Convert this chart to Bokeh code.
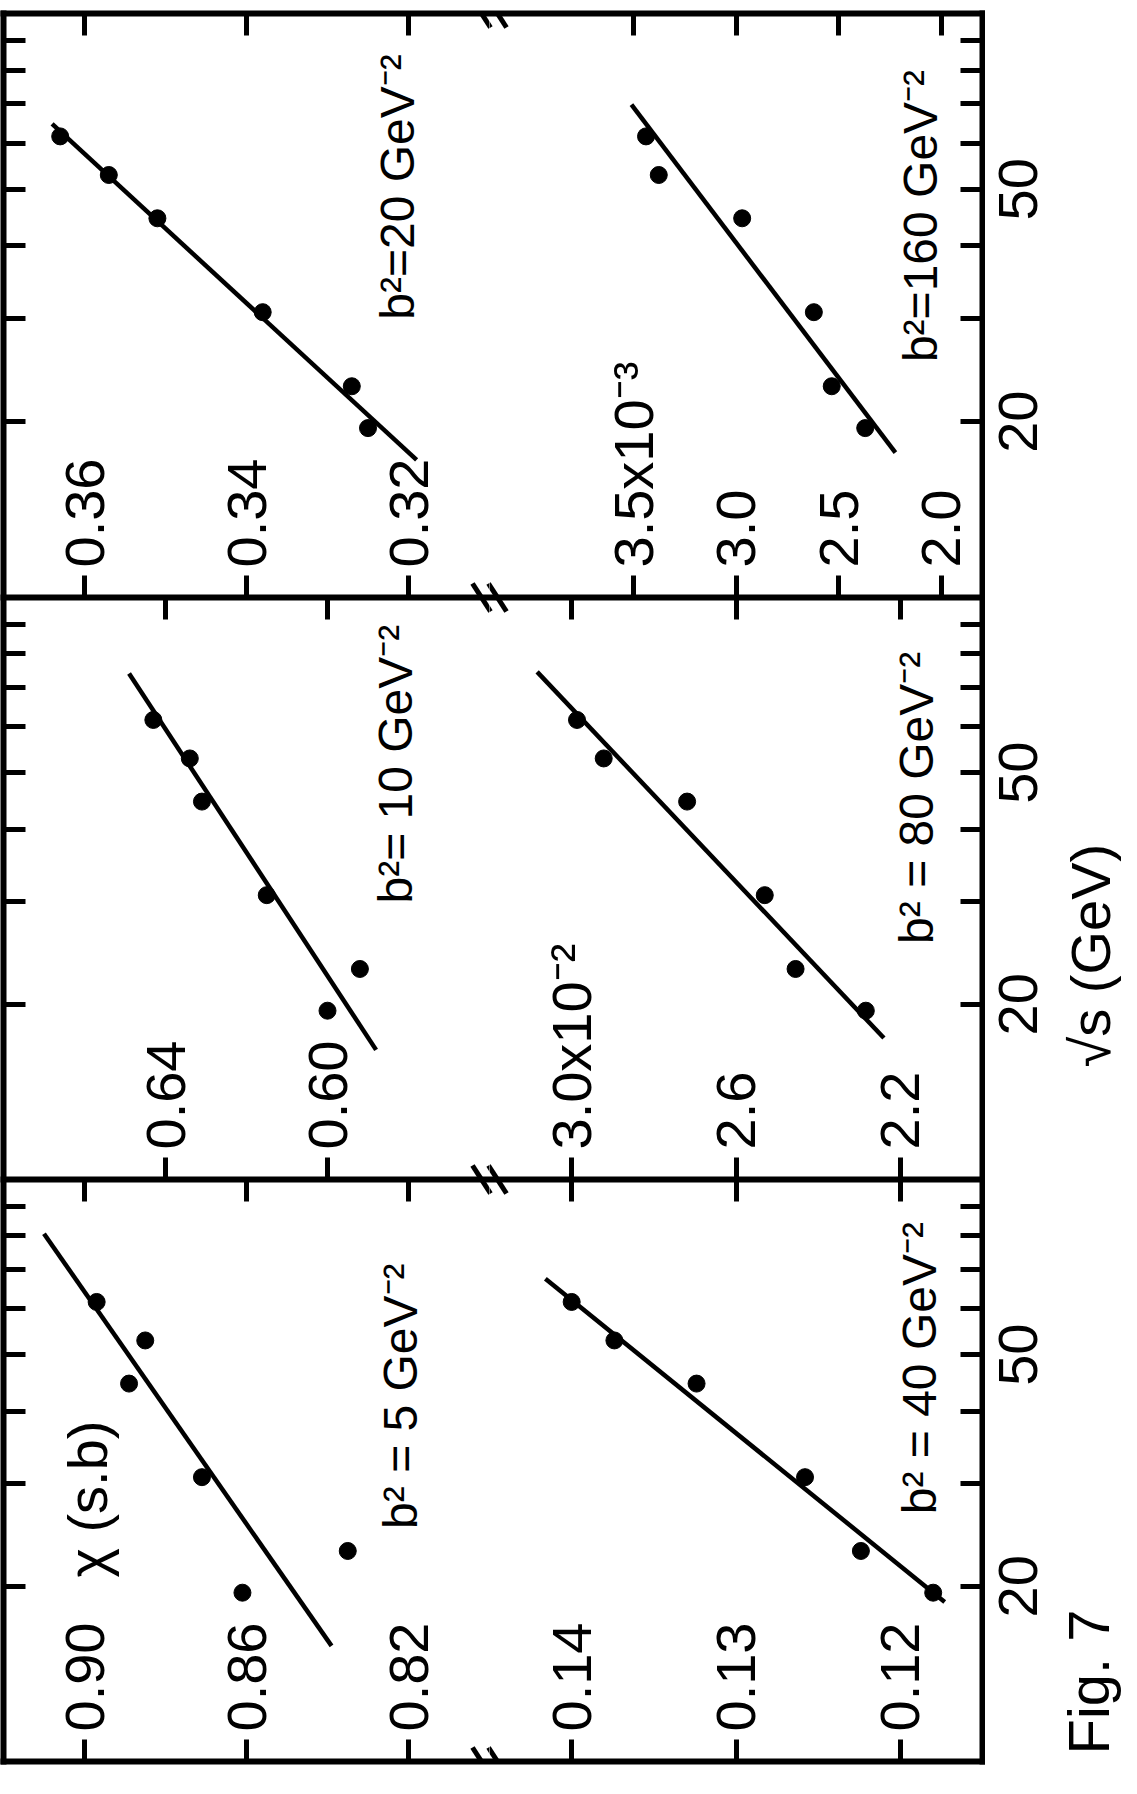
import math
from bokeh.plotting import figure
from bokeh.layouts import gridplot
from bokeh.models import ColumnDataSource, FixedTicker, LinearAxis, LogAxis, Range1d
from bokeh.core.properties import value
from bokeh.embed import file_html
from bokeh.resources import INLINE

# ---------------- data ----------------
sqrt_s = [19.5, 23.0, 30.8, 44.6, 52.9, 61.6]          # GeV

chi_b5 = [0.861, 0.835, 0.871, 0.889, 0.885, 0.897]
chi_b10 = [0.600, 0.592, 0.615, 0.631, 0.634, 0.643]
chi_b20 = [0.325, 0.327, 0.338, 0.351, 0.357, 0.363]
chi_b40 = [0.1180, 0.1224, 0.1258, 0.1324, 0.1374, 0.1400]
chi_b80 = [2.284, 2.455, 2.530, 2.719, 2.922, 2.987]    # x 10^-2
chi_b160 = [2.371, 2.534, 2.621, 2.970, 3.376, 3.438]   # x 10^-3

fit_s_b5 = [15.8, 80.7]
fit_chi_b5 = [0.839, 0.910]
fit_s_b10 = [16.7, 74.0]
fit_chi_b10 = [0.588, 0.649]
fit_s_b20 = [17.2, 64.7]
fit_chi_b20 = [0.319, 0.364]
fit_s_b40 = [18.8, 67.5]
fit_chi_b40 = [0.1173, 0.1416]
fit_s_b80 = [17.5, 74.5]
fit_chi_b80 = [2.240, 3.084]
fit_s_b160 = [17.7, 69.8]
fit_chi_b160 = [2.224, 3.509]

ticks_b5 = [0.90, 0.86, 0.82]
ticklabels_b5 = ["0.90", "0.86", "0.82"]
ticks_b10 = [0.64, 0.60]
ticklabels_b10 = ["0.64", "0.60"]
ticks_b20 = [0.36, 0.34, 0.32]
ticklabels_b20 = ["0.36", "0.34", "0.32"]
ticks_b40 = [0.14, 0.13, 0.12]
ticklabels_b40 = ["0.14", "0.13", "0.12"]
ticks_b80 = [3.0, 2.6, 2.2]
ticklabels_b80 = ["3.0x10⁻²", "2.6", "2.2"]
ticks_b160 = [3.5, 3.0, 2.5, 2.0]
ticklabels_b160 = ["3.5x10⁻³", "3.0", "2.5", "2.0"]

sqrt_s_ticks = [20, 50]
sqrt_s_ticklabels = ["20", "50"]
sqrt_s_all_ticks = [20, 30, 40, 50, 60, 70, 80, 90]

# ---------------- layout / style ----------------
FONT = "Liberation Sans"
TICK_FS = 56
BLABEL_FS = 48
LW_FRAME = 6
LW_TICK = 5
TICK_LEN = 22
MID = 0.35          # alphabetic baseline sits MID*fontsize below the text middle

# frame extents in page pixels
COL_X = [(11, 497), (497, 990), (993, 1129)]
ROW_Y = [(21, 605), (605, 1187), (1187, 1769)]
FIG_W = [489, 496, 136]
FIG_H = [597, 582, 594]
COL_BORDER = [(3, 0), (0, 3), (0, 0)]       # (left, right)
ROW_BORDER = [(13, 0), (0, 0), (0, 12)]     # (top, bottom)
S_RANGE = (10, 100)


def px_to_chi(col, rng, px):
    x0, x1 = COL_X[col]
    return rng[0] + (rng[1] - rng[0]) * (px - x0) / (x1 - x0)


def chi_to_px(col, rng, chi):
    x0, x1 = COL_X[col]
    return x0 + (chi - rng[0]) / (rng[1] - rng[0]) * (x1 - x0)


def px_to_s(row, py):
    y0, y1 = ROW_Y[row]
    return 10 ** (1 + (y1 - py) / (y1 - y0))


def make_fig(r, c, xr):
    bl, br = COL_BORDER[c]
    bt, bb = ROW_BORDER[r]
    p = figure(width=FIG_W[c], height=FIG_H[r],
               x_range=Range1d(*xr), y_range=Range1d(*S_RANGE),
               y_axis_type="log", x_axis_location=None, y_axis_location=None,
               output_backend="svg", toolbar_location=None,
               min_border_left=bl, min_border_right=br,
               min_border_top=bt, min_border_bottom=bb,
               outline_line_color=None,
               background_fill_color="white", border_fill_color="white")
    p.grid.visible = False
    return p


def style_axis(ax):
    ax.axis_line_width = LW_FRAME
    ax.axis_line_cap = "square"
    ax.major_tick_in = 0
    ax.major_tick_out = 0
    ax.minor_tick_in = TICK_LEN
    ax.minor_tick_out = 0
    ax.minor_tick_line_width = LW_TICK
    ax.major_label_standoff = 0


def vtext(p, xs, ys, texts, fs, align="left"):
    p.text(x=xs, y=ys, text=texts, angle=math.pi / 2,
           text_font=value(FONT), text_font_size=value(f"{fs}px"),
           text_align=align, text_baseline="middle", text_color="black")


panels = [
    dict(row=0, col=0, chi=chi_b20, fs=fit_s_b20, fc=fit_chi_b20, rng=(0.37, 0.31),
         ticks=ticks_b20, tl=ticklabels_b20, blabel="b²=20 GeV⁻²", bpos=(0.3193, 29.9)),
    dict(row=0, col=1, chi=chi_b160, fs=fit_s_b160, fc=fit_chi_b160, rng=(4.2, 1.8),
         ticks=ticks_b160, tl=ticklabels_b160, blabel="b²=160 GeV⁻²", bpos=(2.021, 25.3)),
    dict(row=1, col=0, chi=chi_b10, fs=fit_s_b10, fc=fit_chi_b10, rng=(0.68, 0.56),
         ticks=ticks_b10, tl=ticklabels_b10, blabel="b²= 10 GeV⁻²", bpos=(0.579, 29.8)),
    dict(row=1, col=1, chi=chi_b80, fs=fit_s_b80, fc=fit_chi_b80, rng=(3.2, 2.0),
         ticks=ticks_b80, tl=ticklabels_b80, blabel="b² = 80 GeV⁻²", bpos=(2.12, 25.4)),
    dict(row=2, col=0, chi=chi_b5, fs=fit_s_b5, fc=fit_chi_b5, rng=(0.92, 0.80),
         ticks=ticks_b5, tl=ticklabels_b5, blabel="b² = 5 GeV⁻²", bpos=(0.8178, 25.1)),
    dict(row=2, col=1, chi=chi_b40, fs=fit_s_b40, fc=fit_chi_b40, rng=(0.145, 0.115),
         ticks=ticks_b40, tl=ticklabels_b40, blabel="b² = 40 GeV⁻²", bpos=(0.1178, 26.6)),
]

grid = [[None, None, None] for _ in range(3)]

for pn in panels:
    r, c, rng = pn["row"], pn["col"], pn["rng"]
    p = make_fig(r, c, rng)

    # chi axes (top and bottom edges of the rotated panel), ticks pointing inward
    for side in ("below", "above"):
        ax = LinearAxis(ticker=FixedTicker(ticks=[], minor_ticks=pn["ticks"]))
        style_axis(ax)
        p.add_layout(ax, side)

    # sqrt(s) axis on the outer edge, log scale, ticks inward
    sax = LogAxis(ticker=FixedTicker(ticks=[], minor_ticks=sqrt_s_all_ticks))
    style_axis(sax)
    p.add_layout(sax, "left" if c == 0 else "right")

    # data
    p.line(x=pn["fc"], y=pn["fs"], line_color="black", line_width=4.5)
    p.scatter(x=pn["chi"], y=sqrt_s, size=17, color="black")

    # chi tick labels drawn inside the frame, next to the ticks
    y0, y1 = ROW_Y[r]
    lab_s = px_to_s(r, y1 - 30)
    src = ColumnDataSource(dict(x=pn["ticks"], y=[lab_s] * len(pn["ticks"]), t=pn["tl"]))
    p.text(x="x", y="y", text="t", source=src, angle=math.pi / 2,
           text_font=value(FONT), text_font_size=value(f"{TICK_FS}px"),
           text_align="left", text_baseline="middle", text_color="black")

    # b^2 label (baseline position, shifted to the text middle)
    bx = px_to_chi(c, rng, chi_to_px(c, rng, pn["bpos"][0]) - MID * BLABEL_FS)
    vtext(p, [bx], [pn["bpos"][1]], [pn["blabel"]], BLABEL_FS)

    # axis-break marks at the junction of the two halves
    xs0, ys0, xs1, ys1 = [], [], [], []
    for ey in (y0, y1):
        for cx in (497 - 8, 497 + 8):
            xs0.append(px_to_chi(c, rng, cx - 9))
            xs1.append(px_to_chi(c, rng, cx + 9))
            ys0.append(px_to_s(r, ey - 14))
            ys1.append(px_to_s(r, ey + 14))
    p.segment(x0=xs0, y0=ys0, x1=xs1, y1=ys1, line_color="black", line_width=5)

    grid[r][c] = p

# chi label in the first panel
vtext(grid[2][0], [px_to_chi(0, (0.92, 0.80), 115 - MID * 56)], [px_to_s(2, 1585)],
      ["χ (s.b)"], 56)

# outer strip: sqrt(s) tick labels, axis title and figure caption
for r in range(3):
    q = make_fig(r, 2, (COL_X[2][0], COL_X[2][1]))
    vtext(q, [1025] * len(sqrt_s_ticks), sqrt_s_ticks,
          sqrt_s_ticklabels, TICK_FS, align="center")
    if r == 1:
        vtext(q, [1098], [px_to_s(1, 1075)], ["√s  (GeV)"], TICK_FS)
    if r == 2:
        vtext(q, [1096], [px_to_s(2, 1762)], ["Fig. 7"], 58)
    grid[r][2] = q

layout = gridplot(grid, toolbar_location=None)
open("out.html", "w").write(file_html(layout, INLINE))
